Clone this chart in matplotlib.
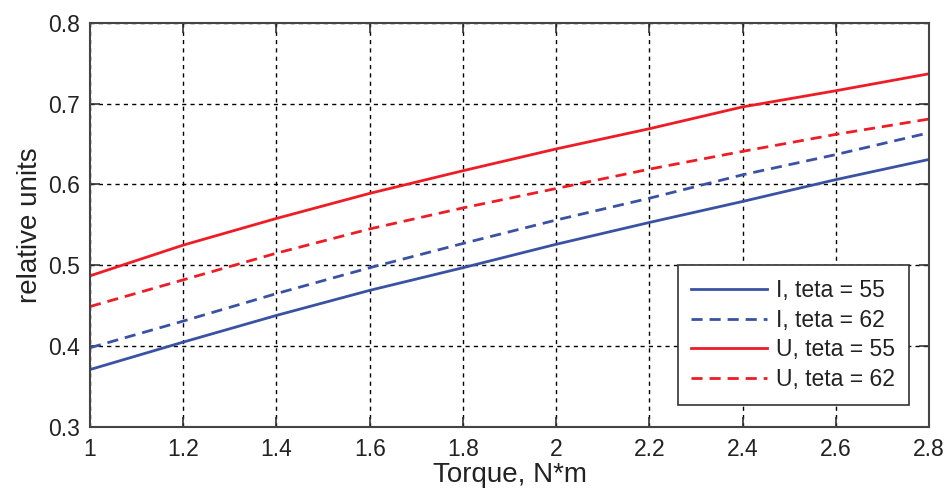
import matplotlib
matplotlib.use("Agg")
import matplotlib.pyplot as plt
import numpy as np

plt.rcParams["font.family"] = ["Liberation Sans", "DejaVu Sans"]

# Data
torque = [1.0, 1.2, 1.4, 1.6, 1.8, 2.0, 2.2, 2.4, 2.6, 2.8]
i_teta55 = [0.371, 0.405, 0.438, 0.469, 0.497, 0.526, 0.553, 0.579, 0.606, 0.631]
i_teta62 = [0.398, 0.431, 0.465, 0.497, 0.527, 0.556, 0.583, 0.612, 0.637, 0.664]
u_teta55 = [0.487, 0.525, 0.558, 0.589, 0.617, 0.644, 0.669, 0.696, 0.716, 0.737]
u_teta62 = [0.449, 0.482, 0.515, 0.545, 0.571, 0.595, 0.619, 0.641, 0.662, 0.681]

xticks = [1, 1.2, 1.4, 1.6, 1.8, 2, 2.2, 2.4, 2.6, 2.8]
xtick_labels = ["1", "1.2", "1.4", "1.6", "1.8", "2", "2.2", "2.4", "2.6", "2.8"]
yticks = [0.3, 0.4, 0.5, 0.6, 0.7, 0.8]

BLUE = "#3A52A4"
RED = "#EE1C25"

fig = plt.figure(figsize=(9.48, 4.97), dpi=100)
ax = fig.add_axes([0.095, 0.141, 0.885, 0.813])

ax.plot(torque, i_teta55, color=BLUE, lw=2.0, label="I, teta = 55")
ax.plot(torque, i_teta62, color=BLUE, lw=2.0, ls=(0, (4, 2.5)), label="I, teta = 62")
ax.plot(torque, u_teta55, color=RED, lw=2.0, label="U, teta = 55")
ax.plot(torque, u_teta62, color=RED, lw=2.0, ls=(0, (4, 2.5)), label="U, teta = 62")

ax.set_xlim(1, 2.8)
ax.set_ylim(0.3, 0.8)
ax.set_xticks(xticks)
ax.set_xticklabels(xtick_labels)
ax.set_yticks(yticks)
ax.set_yticklabels([f"{v:.1f}" for v in yticks])

ax.grid(True, color="black", ls=(0, (3, 3)), lw=1.0)
ax.tick_params(direction="in", length=7, width=1.2, top=True, right=True,
               labelsize=16.5, colors="#333333", labelcolor="#222222")
ax.tick_params(axis="x", pad=8)
ax.tick_params(axis="y", pad=7)
for sp in ax.spines.values():
    sp.set_linewidth(1.5)
    sp.set_color("#444444")

ax.set_xlabel("Torque, N*m", fontsize=20, color="#222222", labelpad=1)
ax.set_ylabel("relative units", fontsize=20, color="#222222", labelpad=4)

leg = ax.legend(loc="lower right", fontsize=16.5, frameon=True, fancybox=False,
                edgecolor="#333333", framealpha=1, handlelength=3.3,
                handletextpad=0.4, borderpad=0.6, labelspacing=0.3,
                borderaxespad=0, bbox_to_anchor=(0.976, 0.054))
leg.get_frame().set_linewidth(1.2)
for t in leg.get_texts():
    t.set_color("#222222")

fig.savefig("out.png", dpi=100)
